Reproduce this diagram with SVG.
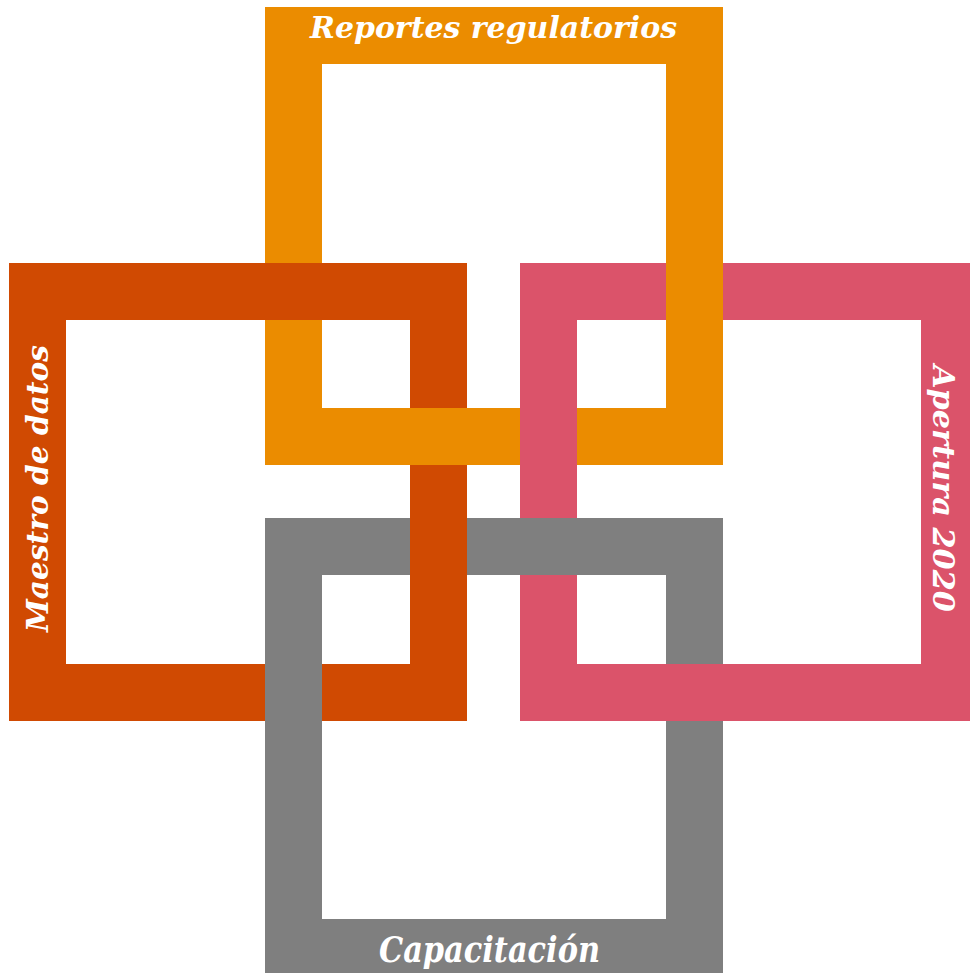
<svg xmlns="http://www.w3.org/2000/svg" width="970" height="973" viewBox="0 0 970 973">
<style>
.or{fill:#EB8C00}.rd{fill:#D04A02}.pk{fill:#DB536A}.gy{fill:#7F7F7F}
.fr{fill-rule:evenodd}
.lbl{font-family:"DejaVu Serif","Liberation Serif",serif;font-weight:bold;font-style:italic;fill:#ffffff;text-anchor:middle}
</style>
<rect x="0" y="0" width="970" height="973" fill="#ffffff"/>
<g id="node-reportes">
<path class="or fr" d="M265 7H723V465H265Z M322 64V408H666V64Z"/>
</g>
<g id="node-maestro">
<path class="rd fr" d="M9 263H467V721H9Z M66 320V664H410V320Z"/>
</g>
<g id="node-apertura">
<path class="pk fr" d="M520 263H978V721H520Z M577 320V664H921V320Z"/>
</g>
<g id="node-capacitacion">
<path class="gy fr" d="M265 518H723V976H265Z M322 575V919H666V575Z"/>
</g>
<g id="crossings">
<rect class="rd" x="265" y="263" width="57" height="57"/>
<rect class="or" x="410" y="408" width="57" height="57"/>
<rect class="or" x="666" y="263" width="57" height="57"/>
<rect class="pk" x="520" y="408" width="57" height="57"/>
<rect class="rd" x="410" y="518" width="57" height="57"/>
<rect class="gy" x="265" y="664" width="57" height="57"/>
<rect class="gy" x="520" y="518" width="57" height="57"/>
<rect class="pk" x="666" y="664" width="57" height="57"/>
</g>
<g id="labels">
<text class="lbl" x="493.5" y="38" font-size="30" textLength="367" lengthAdjust="spacingAndGlyphs">Reportes regulatorios</text>
<text class="lbl" transform="translate(48,488.5) rotate(-90)" x="0" y="0" font-size="30" textLength="287" lengthAdjust="spacingAndGlyphs">Maestro de datos</text>
<text class="lbl" transform="translate(933,488.5) rotate(90)" x="0" y="0" font-size="29" textLength="247" lengthAdjust="spacingAndGlyphs">Apertura 2020</text>
<text class="lbl" x="489.5" y="961.5" font-size="35" textLength="221" lengthAdjust="spacingAndGlyphs">Capacitación</text>
</g>
</svg>
